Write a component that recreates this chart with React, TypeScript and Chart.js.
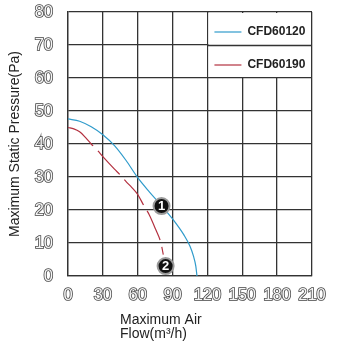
import React, { useEffect, useRef } from 'react';
import { Chart, registerables } from 'chart.js';
Chart.register(...registerables);

const xTicks = [0, 30, 60, 90, 120, 150, 180, 210];
const yTicks = [0, 10, 20, 30, 40, 50, 60, 70, 80];
const seriesNames = ['CFD60120', 'CFD60190'];
const seriesColors = ['#2f9bcb', '#b3303f'];
const cfd60120X = [0, 10, 20, 30, 40, 50, 60, 70, 80, 90, 100, 105, 108, 110, 111];
const cfd60120Y = [47.6, 46.9, 45.2, 42.8, 39.5, 35, 29.8, 25.5, 21.5, 17.3, 12.3, 9, 6, 3, 0];
const cfd60190X = [0, 5, 10, 15, 20, 25, 30, 40, 45, 50, 55, 60, 65, 70, 75, 80, 82];
const cfd60190Y = [45, 44.6, 43.7, 42, 40, 38.2, 36.2, 32.4, 30.6, 28.6, 26.8, 24.7, 21.5, 18.5, 14.5, 10, 6.5];
const markerLabels = ['1', '2'];
const markerX = [80.5, 84];
const markerY = [21.2, 3];
const yTitle = 'Maximum Static Pressure(Pa)';
const xTitleLines = ['Maximum Air', 'Flow(m³/h)'];

const FONT = 'Arial, "Liberation Sans", sans-serif';
const GRID = '#333333';
const GW = 1.3;

const zip = (xs: number[], ys: number[]) => xs.map((x, i) => ({ x, y: ys[i] }));

const boxLegend = {
  id: 'boxLegend',
  beforeDatasetsDraw(chart: any) {
    const { ctx, scales } = chart;
    const x = scales.x, y = scales.y;
    const l = x.getPixelForValue(120), r = x.getPixelForValue(210);
    const t = y.getPixelForValue(80), b = y.getPixelForValue(60);
    ctx.save();
    ctx.fillStyle = '#ffffff';
    ctx.fillRect(l + 1, t + 1, r - l - 2, b - t - 2);
    const y70 = Math.round(y.getPixelForValue(70)) + 0.5;
    ctx.strokeStyle = GRID;
    ctx.lineWidth = GW;
    ctx.beginPath();
    ctx.moveTo(l, y70);
    ctx.lineTo(r, y70);
    ctx.stroke();
    ctx.restore();
  },
  afterDatasetsDraw(chart: any) {
    const { ctx, scales } = chart;
    const x = scales.x, y = scales.y;
    const l = x.getPixelForValue(120);
    const rows = [y.getPixelForValue(80), y.getPixelForValue(70)];
    ctx.save();
    seriesNames.forEach((name, i) => {
      const cy = rows[i] + 20;
      ctx.strokeStyle = seriesColors[i];
      ctx.lineWidth = 1.2;
      ctx.beginPath();
      ctx.moveTo(l + 7, cy);
      ctx.lineTo(l + 34, cy);
      ctx.stroke();
      ctx.fillStyle = '#222222';
      ctx.font = `bold 12px ${FONT}`;
      ctx.textAlign = 'left';
      ctx.textBaseline = 'middle';
      ctx.fillText(name, l + 40, cy);
    });
    const meta = chart.getDatasetMeta(0);
    ctx.fillStyle = '#ffffff';
    ctx.font = `bold 13px ${FONT}`;
    ctx.textAlign = 'center';
    ctx.textBaseline = 'middle';
    meta.data.forEach((pt: any, i: number) => {
      ctx.fillText(markerLabels[i], pt.x, pt.y + 0.5);
    });
    ctx.fillStyle = '#222222';
    ctx.font = `14px ${FONT}`;
    ctx.textAlign = 'left';
    ctx.textBaseline = 'alphabetic';
    xTitleLines.forEach((line, i) => {
      ctx.fillText(line, 120, 324 + i * 14);
    });
    ctx.restore();
  },
};

export default function App() {
  const ref = useRef<HTMLCanvasElement>(null);
  useEffect(() => {
    if (!ref.current) return;
    const tickStyle = {
      color: '#f6f6f6',
      textStrokeColor: '#444444',
      textStrokeWidth: 1.6,
      font: { size: 16.5, family: FONT },
      autoSkip: false,
    };
    const chart = new Chart(ref.current, {
      type: 'scatter',
      data: {
        datasets: [
          {
            label: 'markers',
            data: zip(markerX, markerY),
            showLine: false,
            pointRadius: 8,
            pointBackgroundColor: '#111111',
            pointBorderColor: '#9a9a9a',
            pointBorderWidth: 2,
            order: 0,
          },
          {
            label: seriesNames[0],
            data: zip(cfd60120X, cfd60120Y),
            showLine: true,
            borderColor: seriesColors[0],
            borderWidth: 1.2,
            pointRadius: 0,
            cubicInterpolationMode: 'monotone',
            order: 1,
          },
          {
            label: seriesNames[1],
            data: zip(cfd60190X, cfd60190Y),
            showLine: true,
            borderColor: seriesColors[1],
            borderWidth: 1.2,
            borderDash: [32, 7],
            pointRadius: 0,
            cubicInterpolationMode: 'monotone',
            order: 1,
          },
        ],
      },
      options: {
        animation: false,
        responsive: true,
        maintainAspectRatio: false,
        devicePixelRatio: 1,
        layout: { padding: { left: 0, top: 12, right: 29, bottom: 0 } },
        plugins: { legend: { display: false }, tooltip: { enabled: false }, title: { display: false } },
        scales: {
          x: {
            type: 'linear',
            min: 0,
            max: 210,
            afterBuildTicks: (s: any) => { s.ticks = xTicks.map((v) => ({ value: v })); },
            afterFit: (s: any) => { s.height = 69; s.paddingLeft = 0; s.paddingRight = 0; },
            grid: { color: GRID, lineWidth: GW, drawTicks: false },
            border: { display: true, color: GRID, width: GW },
            ticks: { ...tickStyle, padding: 10, maxRotation: 0 },
          },
          y: {
            type: 'linear',
            min: 0,
            max: 80,
            afterBuildTicks: (s: any) => { s.ticks = yTicks.map((v) => ({ value: v })); },
            afterFit: (s: any) => { s.width = 68; s.paddingTop = 0; s.paddingBottom = 0; },
            grid: { color: GRID, lineWidth: GW, drawTicks: false },
            border: { display: true, color: GRID, width: GW },
            ticks: { ...tickStyle, padding: 15 },
            title: {
              display: true,
              text: yTitle,
              color: '#222222',
              font: { size: 14, family: FONT },
              padding: { top: 6.5, bottom: 0 },
            },
          },
        },
      },
      plugins: [boxLegend],
    } as any);
    return () => chart.destroy();
  }, []);
  return (
    <div style={{ position: 'fixed', left: 0, top: 0, width: 341, height: 345 }}>
      <canvas ref={ref} />
    </div>
  );
}
